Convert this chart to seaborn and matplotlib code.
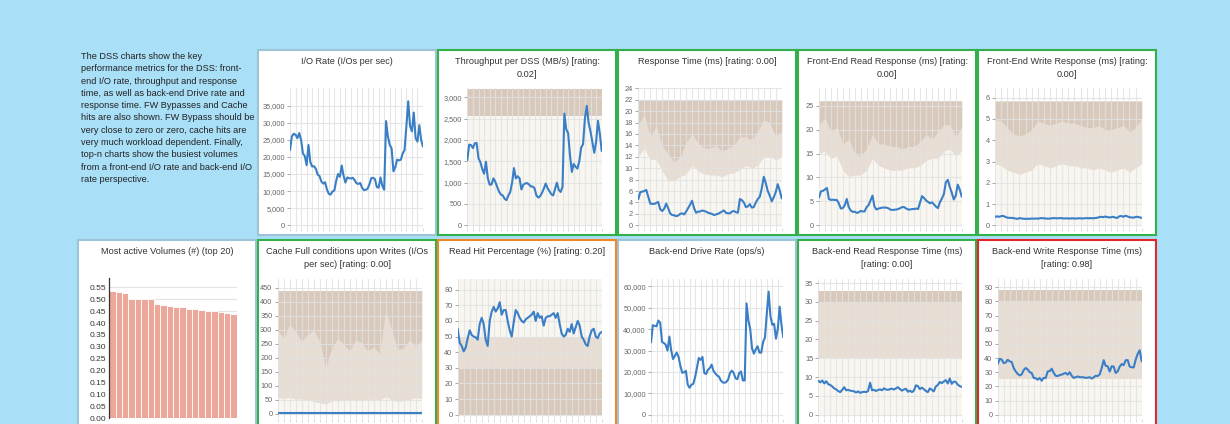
import numpy as np
import pandas as pd
import matplotlib
matplotlib.use("Agg")
import matplotlib.pyplot as plt
from matplotlib.patches import Rectangle
from matplotlib.ticker import FuncFormatter
import seaborn as sns

sns.set_theme(style="white")
plt.rcParams['font.family'] = ['Liberation Sans', 'DejaVu Sans']

# ---------------- data ----------------
description = ("The DSS charts show the key\n"
               "performance metrics for the DSS: front-\n"
               "end I/O rate, throughput and response\n"
               "time, as well as back-end Drive rate and\n"
               "response time. FW Bypasses and Cache\n"
               "hits are also shown. FW Bypass should be\n"
               "very close to zero or zero, cache hits are\n"
               "very much workload dependent. Finally,\n"
               "top-n charts show the busiest volumes\n"
               "from a front-end I/O rate and back-end I/O\n"
               "rate perspective.")

io_rate = [22000, 26000, 26800, 26500, 25500, 27000, 25000, 21000, 20300, 17600,
           23500, 18500, 17200, 17300, 16500, 14800, 14400, 12800, 12200, 12600,
           10500, 9200, 9000, 9900, 10200, 13000, 15000, 14200, 17500, 14500,
           12500, 14000, 13800, 13700, 13900, 13200, 12300, 12100, 12400, 11000,
           10300, 10400, 10700, 12000, 13800, 13900, 13500, 11200, 11000, 14000,
           11500, 10400, 30500, 26000, 23500, 22500, 15800, 17000, 19200, 19000,
           19200, 21000, 22000, 29000, 36300, 29000, 27500, 33000, 25500, 24500,
           29300, 25000, 23000]

throughput = [1530, 1890, 1880, 1810, 1920, 1930, 1570, 1480, 1320, 1210,
              1490, 1100, 950, 960, 1100, 1020, 900, 790, 720, 700,
              620, 590, 700, 780, 1000, 1340, 1100, 1150, 1100, 840,
              950, 980, 990, 960, 910, 910, 870, 700, 650, 680,
              760, 860, 980, 870, 800, 730, 700, 850, 1000, 830,
              780, 900, 2620, 2250, 2160, 1650, 1250, 1440, 1370, 1330,
              1500, 1820, 1900, 2500, 2800, 2400, 2200, 1950, 1700, 1950,
              2450, 2150, 1740]

resp_time = [4.6, 5.8, 5.9, 6.0, 6.2, 5.0, 3.8, 3.75, 3.75, 3.9,
             4.1, 2.8, 2.5, 2.9, 3.8, 3.0, 2.1, 1.8, 1.75, 1.6,
             1.7, 2.0, 2.1, 1.9, 2.4, 3.0, 3.6, 4.3, 3.0, 2.2,
             2.4, 2.4, 2.6, 2.5, 2.4, 2.2, 2.1, 2.0, 1.8, 1.9,
             2.0, 2.2, 2.4, 2.6, 2.2, 2.1, 2.1, 2.4, 2.5, 2.3,
             2.2, 4.6, 4.4, 4.0, 3.2, 3.3, 3.7, 3.1, 3.2, 4.0,
             4.6, 5.0, 6.5, 8.5, 7.4, 6.0, 5.2, 4.2, 4.9, 5.8,
             7.2, 6.1, 4.7]

fe_read = [5.8, 7.1, 7.2, 7.5, 7.8, 5.5, 5.3, 5.35, 5.3, 5.3,
           4.6, 3.5, 3.6, 4.2, 5.5, 3.8, 3.1, 2.8, 2.85, 2.6,
           2.7, 3.0, 2.9, 2.9, 3.8, 4.2, 5.2, 6.2, 3.9, 3.3,
           3.5, 3.6, 3.7, 3.7, 3.7, 3.55, 3.3, 3.2, 3.25, 3.3,
           3.4, 3.6, 3.8, 3.8, 3.5, 3.3, 3.3, 3.4, 3.4, 3.5,
           3.4, 4.8, 6.1, 5.7, 5.2, 4.9, 4.6, 4.8, 4.4, 3.9,
           3.6, 4.8, 5.6, 6.5, 9.0, 9.5, 8.0, 6.8, 5.4, 6.2,
           8.5, 7.5, 6.0]

fe_write = [0.40, 0.42, 0.40, 0.43, 0.44, 0.40, 0.36, 0.35, 0.35, 0.34,
            0.32, 0.30, 0.34, 0.32, 0.31, 0.30, 0.31, 0.30, 0.32, 0.31,
            0.32, 0.31, 0.33, 0.34, 0.33, 0.32, 0.31, 0.32, 0.33, 0.34,
            0.33, 0.33, 0.34, 0.33, 0.32, 0.33, 0.32, 0.32, 0.33, 0.32,
            0.32, 0.33, 0.33, 0.32, 0.33, 0.34, 0.33, 0.34, 0.33, 0.34,
            0.35, 0.38, 0.40, 0.38, 0.41, 0.39, 0.37, 0.38, 0.40, 0.36,
            0.35, 0.42, 0.44, 0.40, 0.45, 0.42, 0.38, 0.37, 0.36, 0.39,
            0.40, 0.37, 0.35]

cache_full = [3, 3, 3, 3, 3, 3, 3, 3, 3, 3,
              3, 3, 3, 3, 3, 3, 3, 3, 3, 3,
              3, 3, 3, 3, 3, 3, 3, 3, 3, 3,
              3, 3, 3, 3, 3, 3, 3, 3, 3, 3,
              3, 3, 3, 3, 3, 3, 3, 3, 3, 3,
              3, 3, 3, 3, 3, 3, 3, 3, 3, 3,
              3, 3, 3, 3, 3, 3, 3, 3, 3, 3,
              3, 3, 3]

read_hit = [55, 46, 44, 40.5, 43, 49, 54, 51, 50, 49.5,
            48, 58, 62, 58, 48, 44, 60, 66, 69, 66,
            68, 72, 64, 67, 67, 60, 54, 50, 59, 67,
            65, 62, 60, 59, 61, 62, 63, 64, 66, 60,
            65, 62, 63, 57, 62, 63, 63, 64, 65, 62,
            65, 58, 52, 50, 51, 55, 53, 58, 52, 56,
            60, 57, 50, 48, 45, 44, 50, 54, 55, 50,
            49, 52, 53]

drive_rate = [33800, 41800, 41500, 41300, 44000, 43000, 34000, 33500, 32700, 30000,
              36500, 30000, 26000, 27500, 29000, 27000, 22800, 19600, 19800, 20500,
              14000, 12600, 14000, 14400, 17500, 22000, 26500, 25600, 27000, 19500,
              19000, 21000, 21800, 23400, 20500, 19300, 18300, 17800, 16000, 15100,
              14900, 15300, 16500, 19500, 20600, 19500, 17000, 16600, 19500, 20200,
              16000, 16000, 52000, 44000, 40000, 31000, 28500, 30500, 32000, 29000,
              29000, 34000, 36000, 47000, 57500, 46000, 42000, 42500, 35500, 40000,
              50500, 42000, 36000]

be_read = [9.0, 8.6, 9.1, 8.3, 8.9, 8.1, 7.9, 7.5, 7.0, 6.7,
           6.3, 6.0, 6.6, 7.3, 6.5, 6.6, 6.4, 6.3, 6.2, 5.9,
           6.2, 5.8, 6.0, 6.1, 6.0, 6.3, 8.5, 6.5, 6.6, 6.3,
           6.6, 6.7, 6.5, 7.0, 6.7, 6.6, 6.8, 6.9, 6.7, 7.0,
           7.3, 6.8, 6.4, 6.7, 6.9, 6.1, 6.4, 6.0, 6.4, 7.8,
           7.6, 6.8, 7.2, 6.8, 6.3, 6.0, 7.0, 6.6, 6.2, 7.5,
           7.9, 8.7, 8.4, 8.8, 9.2, 8.3, 9.6, 8.2, 8.8, 8.7,
           8.0, 7.6, 7.4]

be_write = [35.8, 39.5, 38.9, 36.5, 36.8, 38.8, 37.7, 37.2, 33.0, 30.6,
            28.8, 27.8, 28.5, 31.5, 33.0, 32.0, 30.0, 29.5, 26.0, 25.8,
            24.7, 26.0, 24.0, 26.0, 25.9, 30.6, 30.8, 32.5, 29.5, 27.5,
            27.3, 28.0, 28.3, 29.0, 29.5, 28.3, 30.0, 27.5, 26.0, 26.5,
            27.0, 26.5, 26.5, 26.4, 26.0, 26.2, 26.5, 25.5, 26.4, 27.5,
            27.3, 28.5, 33.0, 38.5, 34.5, 34.2, 30.5, 34.2, 34.0, 29.5,
            30.6, 34.0, 35.8, 35.0, 38.5, 38.5, 34.0, 33.5, 33.4, 38.9,
            43.0, 45.5, 37.7]

# threshold bands (sampled every 3rd interval)
rt_upper = [17.5, 19.5, 15.5, 17.5, 14.0, 12.5, 11.0, 12.0, 14.5, 16.0, 14.5, 13.5, 13.5,
            14.0, 13.0, 13.5, 14.0, 15.5, 15.5, 15.0, 16.5, 18.5, 18.0, 15.5, 16.5]
rt_lower = [12.0, 13.5, 11.5, 11.5, 9.5, 7.8, 7.8, 8.5, 9.0, 10.5, 9.5, 9.0, 8.8,
            8.8, 8.5, 9.0, 9.2, 9.8, 10.5, 10.0, 10.5, 12.0, 12.0, 11.5, 12.0]
fer_upper = [21, 22.5, 19.5, 20.5, 17, 18, 15, 14.5, 16, 19, 17, 17, 16.5,
             16.5, 16, 16.5, 16.5, 17.5, 19, 18, 19.5, 21, 21, 18.5, 20.5]
fer_lower = [15, 15.5, 14, 14.5, 11.5, 10.2, 10.5, 10.5, 11.5, 14, 12.5, 12, 11.5,
             11.5, 11.5, 12, 12, 12.5, 13.5, 14, 14, 15.5, 16, 14.5, 15.5]
few_upper = [5.0, 4.9, 4.6, 4.3, 4.2, 4.3, 4.5, 4.9, 4.8, 4.7, 4.8, 4.9, 4.8,
             4.8, 4.7, 4.6, 4.6, 4.7, 4.5, 4.5, 4.6, 4.7, 4.4, 4.6, 5.0]
few_lower = [2.9, 2.8, 2.6, 2.5, 2.4, 2.5, 2.6, 2.9, 2.8, 2.7, 2.8, 2.9, 2.8,
             2.8, 2.7, 2.7, 2.6, 2.7, 2.6, 2.5, 2.6, 2.7, 2.5, 2.7, 2.9]
cf_upper = [300, 270, 320, 295, 260, 285, 300, 260, 165, 235, 270, 250, 225,
            265, 255, 225, 240, 215, 370, 300, 230, 235, 265, 240, 265]
cf_lower = [58, 55, 60, 52, 55, 50, 45, 40, 35, 48, 47, 50, 52,
            48, 50, 50, 54, 50, 62, 50, 45, 48, 52, 58, 55]

rt_top, fer_top, few_top, cf_top = 22, 26, 5.84, 441
tp_levels = [2570, 3200]
rh_levels = [30, 50]
ber_levels = [15, 30, 33]
bew_levels = [25, 80, 88]

volumes = [0.536, 0.529, 0.528, 0.501, 0.500, 0.500, 0.499, 0.481, 0.477, 0.473,
           0.469, 0.466, 0.460, 0.459, 0.456, 0.451, 0.451, 0.448, 0.442, 0.439]

titles = {
    'io': "I/O Rate (I/Os per sec)",
    'tp': "Throughput per DSS (MB/s) [rating:\n0.02]",
    'rt': "Response Time (ms) [rating: 0.00]",
    'fer': "Front-End Read Response (ms) [rating:\n0.00]",
    'few': "Front-End Write Response (ms) [rating:\n0.00]",
    'vol': "Most active Volumes (#) (top 20)",
    'cf': "Cache Full conditions upon Writes (I/Os\nper sec) [rating: 0.00]",
    'rh': "Read Hit Percentage (%) [rating: 0.20]",
    'dr': "Back-end Drive Rate (ops/s)",
    'ber': "Back-end Read Response Time (ms)\n[rating: 0.00]",
    'bew': "Back-end Write Response Time (ms)\n[rating: 0.98]",
}

# ---------------- styling ----------------
W, H = 1230, 424
BG = '#a9dff7'
LINE = '#3a7fc6'
C_LIGHT = '#f9f6f1'
C_MED = '#e8ddd2'
C_DARK = '#d8c9bb'
GRID = '#e2e2e2'
B_BLUE = '#9dc3d6'
B_GREEN = '#33b04a'
B_ORANGE = '#f4862a'
B_RED = '#e2262c'

fig = plt.figure(figsize=(W / 100, H / 100), dpi=100)
fig.patch.set_facecolor(BG)

def fx(px):
    return px / W

def fy(py):
    return 1 - py / H

def panel(x0, y0, x1, y1, edge):
    fig.patches.append(Rectangle((fx(x0), fy(y1)), fx(x1) - fx(x0), fy(y0) - fy(y1),
                                 transform=fig.transFigure, facecolor='white',
                                 edgecolor=edge, linewidth=1.5, zorder=-5))

def title(cx, cy, text):
    fig.text(fx(cx), fy(cy), text, ha='center', va='center', fontsize=6.6,
             color='#333333', linespacing=1.5)

def make_axes(xl, xr, yt, yb, ref0, ref1):
    ax = fig.add_axes([fx(xl), fy(yb), fx(xr) - fx(xl), fy(yt) - fy(yb)])
    (p0, v0), (p1, v1) = ref0, ref1
    s = (v1 - v0) / (p0 - p1)
    ax.set_ylim(v0 - (yb - p0) * s, v0 + (p0 - yt) * s)
    ax.set_facecolor('none')
    for sp in ax.spines.values():
        sp.set_visible(False)
    return ax

def style_line_axes(ax, yticks, fmt, ylim):
    ax.set_xlim(0, 72)
    ax.set_ylim(*ylim)
    ax.set_xticks(np.arange(0, 73, 3))
    ax.set_xticklabels([])
    ax.set_yticks(yticks)
    ax.yaxis.set_major_formatter(FuncFormatter(fmt))
    ax.set_axisbelow(False)
    ax.grid(True, color=GRID, linewidth=0.8, alpha=0.85)
    ax.tick_params(axis='y', length=2.2, width=0.6, color='#999999', pad=1.5,
                   labelsize=5.3, labelcolor='#666666', left=True)
    ax.tick_params(axis='x', length=2, width=0.5, color='#cccccc', bottom=True)
    ax.set_xlabel('')
    ax.set_ylabel('')

comma = lambda v, p: f"{int(round(v)):,}"
integer = lambda v, p: f"{int(round(v))}"

idx = np.arange(len(io_rate))
bidx = np.arange(0, 73, 3)

def draw_line(ax, values):
    df = pd.DataFrame({'t': idx, 'v': values})
    sns.lineplot(data=df, x='t', y='v', ax=ax, color=LINE, linewidth=1.5, zorder=5)

def three_bands(ax, upper, lower, top):
    ax.fill_between(bidx, 0, top, color=C_LIGHT, zorder=1, linewidth=0)
    ax.fill_between(bidx, lower, top, color=C_MED, zorder=1, linewidth=0)
    ax.fill_between(bidx, upper, top, color=C_DARK, zorder=1, linewidth=0)

def flat_bands(ax, levels, colors):
    lo = 0
    for lev, c in zip(levels, colors):
        ax.fill_between([0, 72], lo, lev, color=c, zorder=1, linewidth=0)
        lo = lev

# ---------------- panels ----------------
cols = [78, 258, 438, 618, 798, 978]
PW = 178
R1T, R1B = 50, 235
R2T, R2B = 239.5, 440

fig.text(fx(81), fy(52), description, ha='left', va='top', fontsize=6.6,
         color='#222222', linespacing=1.47)

panel(cols[1], R1T, cols[1] + PW, R1B, B_BLUE)
for c in cols[2:]:
    panel(c, R1T, c + PW, R1B, B_GREEN)
panel(cols[0], R2T, cols[0] + PW, R2B, B_BLUE)
panel(cols[1], R2T, cols[1] + PW, R2B, B_GREEN)
panel(cols[2], R2T, cols[2] + PW, R2B, B_ORANGE)
panel(cols[3], R2T, cols[3] + PW, R2B, B_BLUE)
panel(cols[4], R2T, cols[4] + PW, R2B, B_GREEN)
panel(cols[5], R2T, cols[5] + PW, R2B, B_RED)

def tpos(c, text, row):
    cx = c + PW / 2
    if row == 1:
        cy = 68.2 if '\n' in text else 62
    else:
        cy = 257.9 if '\n' in text else 252
    title(cx, cy, text)

# I/O rate
ax = make_axes(290, 423, 88.3, 227.7, (225.3, 0), (105.7, 35000))
yl = ax.get_ylim()
draw_line(ax, io_rate)
style_line_axes(ax, np.arange(0, 35001, 5000), comma, yl)
tpos(cols[1], titles['io'], 1)

# Throughput
ax = make_axes(467.3, 601.7, 88.3, 227.7, (225.3, 0), (97.3, 3000))
yl = ax.get_ylim()
flat_bands(ax, tp_levels, [C_LIGHT, C_DARK])
draw_line(ax, throughput)
style_line_axes(ax, np.arange(0, 3001, 500), comma, yl)
tpos(cols[2], titles['tp'], 1)

# Response time
ax = make_axes(638.3, 781.7, 88.3, 227.7, (225.3, 0), (88.3, 24))
yl = ax.get_ylim()
three_bands(ax, rt_upper, rt_lower, rt_top)
draw_line(ax, resp_time)
style_line_axes(ax, np.arange(0, 25, 2), integer, yl)
tpos(cols[3], titles['rt'], 1)

# FE read
ax = make_axes(819, 961.7, 88.3, 227.7, (225.3, 0), (105.7, 25))
yl = ax.get_ylim()
three_bands(ax, fer_upper, fer_lower, fer_top)
draw_line(ax, fe_read)
style_line_axes(ax, np.arange(0, 26, 5), integer, yl)
tpos(cols[4], titles['fer'], 1)

# FE write
ax = make_axes(995, 1141.7, 88.3, 227.7, (225.3, 0), (97.7, 6))
yl = ax.get_ylim()
three_bands(ax, few_upper, few_lower, few_top)
draw_line(ax, fe_write)
style_line_axes(ax, np.arange(0, 7, 1), integer, yl)
tpos(cols[5], titles['few'], 1)

# Volumes bar chart
ax = make_axes(109.3, 236.7, 278, 418.3, (418.3, 0), (287.3, 0.55))
yl = ax.get_ylim()
vdf = pd.DataFrame({'vol': [f"v{i}" for i in range(len(volumes))], 'val': volumes})
sns.barplot(data=vdf, x='vol', y='val', ax=ax, color='#eba799', saturation=1,
            width=1.0, edgecolor='white', linewidth=0.6, zorder=2)
ax.set_xlim(-0.5, len(volumes) - 0.5)
ax.set_ylim(*yl)
ax.set_yticks(np.arange(0, 0.551, 0.05))
ax.yaxis.set_major_formatter(FuncFormatter(lambda v, p: f"{v:.2f}"))
ax.set_xticks([])
ax.grid(True, axis='y', color=GRID, linewidth=0.8, zorder=0)
ax.set_axisbelow(True)
ax.spines['left'].set_visible(True)
ax.spines['left'].set_color('#333333')
ax.spines['left'].set_linewidth(0.9)
ax.tick_params(axis='y', length=0, pad=2, labelsize=6, labelcolor='#333333', left=False)
ax.set_xlabel('')
ax.set_ylabel('')
tpos(cols[0], titles['vol'], 2)

# Cache full
ax = make_axes(277.7, 421.7, 278.7, 418.5, (414, 0), (288, 450))
yl = ax.get_ylim()
three_bands(ax, cf_upper, cf_lower, cf_top)
draw_line(ax, cache_full)
style_line_axes(ax, np.arange(0, 451, 50), integer, yl)
tpos(cols[1], titles['cf'], 2)

# Read hit
ax = make_axes(457.7, 601.7, 278.7, 418.5, (414.7, 0), (289.7, 80))
yl = ax.get_ylim()
flat_bands(ax, rh_levels + [100], [C_DARK, C_MED, C_LIGHT])
draw_line(ax, read_hit)
style_line_axes(ax, np.arange(0, 81, 10), integer, yl)
tpos(cols[2], titles['rh'], 2)

# Drive rate
ax = make_axes(651, 783.3, 278.7, 418.5, (414.7, 0), (286.3, 60000))
yl = ax.get_ylim()
draw_line(ax, drive_rate)
style_line_axes(ax, np.arange(0, 60001, 10000), comma, yl)
tpos(cols[3], titles['dr'], 2)

# BE read
ax = make_axes(818.3, 961.7, 278.7, 418.5, (414.7, 0), (283, 35))
yl = ax.get_ylim()
flat_bands(ax, ber_levels, [C_LIGHT, C_MED, C_DARK])
draw_line(ax, be_read)
style_line_axes(ax, np.arange(0, 36, 5), integer, yl)
tpos(cols[4], titles['ber'], 2)

# BE write
ax = make_axes(997.7, 1141.7, 278.7, 418.5, (414.7, 0), (287.3, 90))
yl = ax.get_ylim()
flat_bands(ax, bew_levels, [C_LIGHT, C_MED, C_DARK])
draw_line(ax, be_write)
style_line_axes(ax, np.arange(0, 91, 10), integer, yl)
tpos(cols[5], titles['bew'], 2)

fig.savefig('out.png', dpi=100, facecolor=BG)
